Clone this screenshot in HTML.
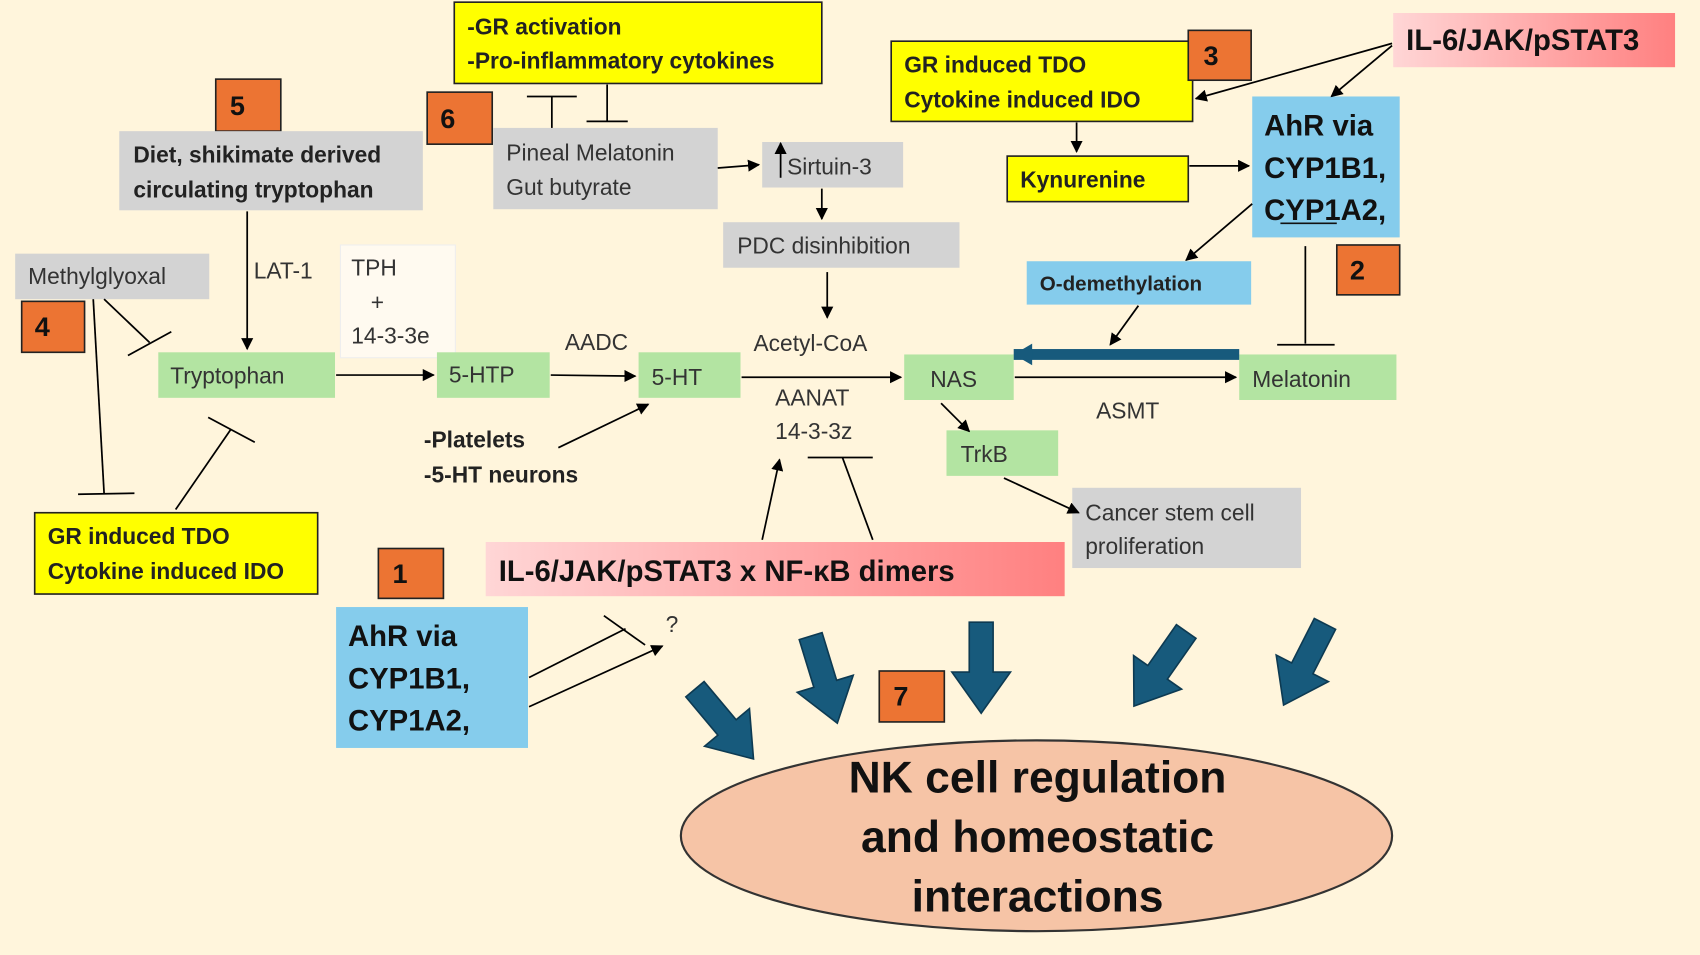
<!DOCTYPE html>
<html><head><meta charset="utf-8"><style>
html,body{margin:0;padding:0;background:#fff5dc;}
svg{display:block;font-family:"Liberation Sans",sans-serif;}
</style></head><body>
<svg width="1700" height="955" viewBox="0 0 1568 881" preserveAspectRatio="none" xmlns="http://www.w3.org/2000/svg">
<defs>
<marker id="a" viewBox="0 0 10 10" refX="9" refY="5" markerWidth="7" markerHeight="7" orient="auto-start-reverse"><path d="M0,0 L10,5 L0,10 z" fill="#000"/></marker>
<linearGradient id="pk" x1="0" x2="1"><stop offset="0" stop-color="#ffd6d6"/><stop offset="1" stop-color="#ff8080"/></linearGradient>
<path id="ba" d="M-11,-42 L11,-42 L11,4 L27,4 L0,42 L-27,4 L-11,4 z" fill="#175a7c" stroke="#0d3a52" stroke-width="1.5"/>
</defs>
<rect width="1568" height="881" fill="#fff5dc"/>

<g stroke="#222" stroke-width="1.5">
<rect x="419" y="2" width="339" height="75" fill="#ffff00"/>
<rect x="822" y="38" width="278" height="74" fill="#ffff00"/>
<rect x="929" y="144" width="167" height="42" fill="#ffff00"/>
<rect x="32" y="473" width="261" height="75" fill="#ffff00"/>
<rect x="199" y="73" width="60" height="48" fill="#ec7433"/>
<rect x="394" y="85" width="60" height="48" fill="#ec7433"/>
<rect x="1096" y="28" width="58" height="46" fill="#ec7433"/>
<rect x="1233" y="226" width="58" height="46" fill="#ec7433"/>
<rect x="20" y="278" width="58" height="47" fill="#ec7433"/>
<rect x="349" y="506" width="60" height="46" fill="#ec7433"/>
<rect x="811" y="619" width="60" height="47" fill="#ec7433"/>
</g>
<g stroke="none">
<rect x="110" y="121" width="280" height="73" fill="#d3d3d3"/>
<rect x="455" y="118" width="207" height="75" fill="#d3d3d3"/>
<rect x="703" y="131" width="130" height="42" fill="#d3d3d3"/>
<rect x="667" y="205" width="218" height="42" fill="#d3d3d3"/>
<rect x="14" y="234" width="179" height="42" fill="#d3d3d3"/>
<rect x="989" y="450" width="211" height="74" fill="#d3d3d3"/>
<rect x="1285" y="12" width="260" height="50" fill="url(#pk)"/>
<rect x="448" y="500" width="534" height="50" fill="url(#pk)"/>
<rect x="1155" y="89" width="136" height="130" fill="#85ccec"/>
<rect x="947" y="241" width="207" height="40" fill="#85ccec"/>
<rect x="310" y="560" width="177" height="130" fill="#85ccec"/>
<rect x="314" y="226" width="106" height="104" fill="#fffaf0" stroke="#eee"/>
<rect x="146" y="325" width="163" height="42" fill="#b3e4a2"/>
<rect x="403" y="325" width="104" height="42" fill="#b3e4a2"/>
<rect x="589" y="325" width="94" height="42" fill="#b3e4a2"/>
<rect x="834" y="327" width="101" height="42" fill="#b3e4a2"/>
<rect x="1143" y="327" width="145" height="42" fill="#b3e4a2"/>
<rect x="873" y="397" width="103" height="42" fill="#b3e4a2"/>
</g>
<ellipse cx="956" cy="771" rx="328" ry="88" fill="#f6c4a6" stroke="#333" stroke-width="2"/>

<g stroke="#000" stroke-width="1.6" fill="none">
<line x1="228" y1="195" x2="228" y2="322" marker-end="url(#a)"/>
<line x1="310" y1="346" x2="400" y2="346" marker-end="url(#a)"/>
<line x1="508" y1="346" x2="586" y2="347" marker-end="url(#a)"/>
<line x1="684" y1="348" x2="831" y2="348" marker-end="url(#a)"/>
<line x1="936" y1="348" x2="1140" y2="348" marker-end="url(#a)"/>
<line x1="515" y1="413" x2="598" y2="373" marker-end="url(#a)"/>
<line x1="662" y1="155" x2="700" y2="152" marker-end="url(#a)"/>
<line x1="758" y1="174" x2="758" y2="202" marker-end="url(#a)"/>
<line x1="763" y1="251" x2="763" y2="293" marker-end="url(#a)"/>
<line x1="720" y1="164" x2="720" y2="132" marker-end="url(#a)"/>
<line x1="993" y1="113" x2="993" y2="140" marker-end="url(#a)"/>
<line x1="1097" y1="153" x2="1152" y2="153" marker-end="url(#a)"/>
<line x1="1284" y1="40" x2="1103" y2="91" marker-end="url(#a)"/>
<line x1="1284" y1="42" x2="1228" y2="89" marker-end="url(#a)"/>
<line x1="1155" y1="188" x2="1094" y2="240" marker-end="url(#a)"/>
<line x1="1050" y1="282" x2="1024" y2="318" marker-end="url(#a)"/>
<line x1="1204" y1="227" x2="1204" y2="317"/><line x1="1178" y1="318" x2="1231" y2="318"/>
<line x1="868" y1="372" x2="894" y2="398" marker-end="url(#a)"/>
<line x1="926" y1="441" x2="995" y2="473" marker-end="url(#a)"/>
<line x1="703" y1="498" x2="719" y2="424" marker-end="url(#a)"/>
<line x1="805" y1="498" x2="777" y2="422"/><line x1="745" y1="422" x2="805" y2="422"/>
<line x1="509" y1="118" x2="509" y2="89"/><line x1="486" y1="89" x2="532" y2="89"/>
<line x1="560" y1="112" x2="560" y2="78"/><line x1="541" y1="112" x2="579" y2="112"/>
<line x1="96" y1="276" x2="138" y2="316"/><line x1="118" y1="328" x2="158" y2="306"/>
<line x1="86" y1="276" x2="96" y2="455"/><line x1="72" y1="456" x2="124" y2="455"/>
<line x1="162" y1="470" x2="213" y2="396"/><line x1="192" y1="385" x2="235" y2="408"/>
<line x1="488" y1="625" x2="577" y2="580"/><line x1="557" y1="568" x2="595" y2="595"/>
<line x1="488" y1="652" x2="611" y2="596" marker-end="url(#a)"/>
</g>
<rect x="935" y="322" width="208" height="10" fill="#175a7c"/>
<path d="M935,327 L952,317 L952,337 z" fill="#175a7c"/>

<use href="#ba" transform="translate(668,668) rotate(-40)"/>
<use href="#ba" transform="translate(760,627) rotate(-17)"/>
<use href="#ba" transform="translate(905,616)"/>
<use href="#ba" transform="translate(1070,617) rotate(35)"/>
<use href="#ba" transform="translate(1203,613) rotate(27)"/>

<g font-size="21" fill="#222" font-weight="bold">
<text x="431" y="32">-GR activation</text>
<text x="431" y="63">-Pro-inflammatory cytokines</text>
<text x="834" y="67">GR induced TDO</text>
<text x="834" y="99">Cytokine induced IDO</text>
<text x="941" y="173">Kynurenine</text>
<text x="44" y="502">GR induced TDO</text>
<text x="44" y="534">Cytokine induced IDO</text>
<text x="123" y="150">Diet, shikimate derived</text>
<text x="123" y="182">circulating tryptophan</text>
<text x="391" y="413">-Platelets</text>
<text x="391" y="445">-5-HT neurons</text>
<text x="959" y="268" font-size="19">O-demethylation</text>
</g>
<g font-size="25" font-weight="bold" fill="#111" text-anchor="middle">
<text x="219" y="106">5</text><text x="413" y="118">6</text><text x="1117" y="60">3</text>
<text x="1252" y="258">2</text><text x="39" y="310">4</text><text x="369" y="538">1</text><text x="831" y="651">7</text>
</g>
<g font-size="27" font-weight="bold" fill="#111">
<text x="1297" y="46">IL-6/JAK/pSTAT3</text>
<text x="460" y="536">IL-6/JAK/pSTAT3 x NF-κB dimers</text>
<text x="1166" y="125">AhR via</text><text x="1166" y="164">CYP1B1,</text><text x="1166" y="203">CYP1A2,</text>
<text x="321" y="596">AhR via</text><text x="321" y="635">CYP1B1,</text><text x="321" y="674">CYP1A2,</text>
</g>
<line x1="1181" y1="206" x2="1233" y2="206" stroke="#111" stroke-width="1.5"/>
<g font-size="21" fill="#333">
<text x="467" y="148">Pineal Melatonin</text><text x="467" y="180">Gut butyrate</text>
<text x="726" y="161">Sirtuin-3</text>
<text x="680" y="234">PDC disinhibition</text>
<text x="26" y="262">Methylglyoxal</text>
<text x="1001" y="480">Cancer stem cell</text><text x="1001" y="511">proliferation</text>
<text x="234" y="257">LAT-1</text>
<text x="324" y="254">TPH</text><text x="342" y="286">+</text><text x="324" y="317">14-3-3e</text>
<text x="521" y="323">AADC</text>
<text x="695" y="324">Acetyl-CoA</text>
<text x="715" y="374">AANAT</text><text x="715" y="405">14-3-3z</text>
<text x="1011" y="386">ASMT</text>
<text x="614" y="583">?</text>
<text x="157" y="354">Tryptophan</text><text x="414" y="353">5-HTP</text><text x="601" y="355">5-HT</text>
<text x="858" y="357">NAS</text><text x="1155" y="357">Melatonin</text><text x="886" y="426">TrkB</text>
</g>
<g font-size="41" font-weight="bold" fill="#111" text-anchor="middle">
<text x="957" y="731">NK cell regulation</text>
<text x="957" y="786">and homeostatic</text>
<text x="957" y="841">interactions</text>
</g>
</svg>
</body></html>
